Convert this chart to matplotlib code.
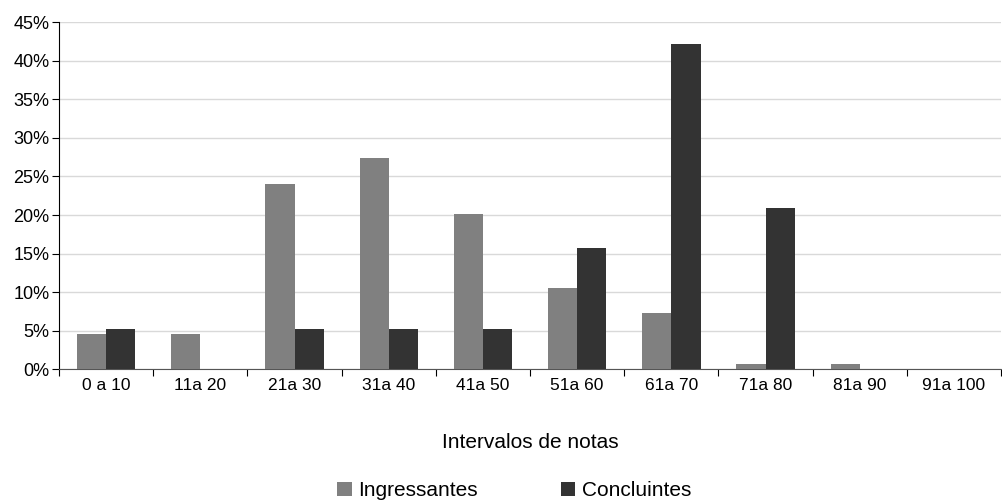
import matplotlib.pyplot as plt
import numpy as np
from matplotlib.ticker import FuncFormatter, FixedLocator

plt.rcParams['font.family'] = ['Liberation Sans', 'DejaVu Sans']

categorias = ["0 a 10", "11a 20", "21a 30", "31a 40", "41a 50",
              "51a 60", "61a 70", "71a 80", "81a 90", "91a 100"]
ingressantes = [4.6, 4.6, 24.0, 27.4, 20.1, 10.6, 7.3, 0.7, 0.7, 0.0]
concluintes = [5.3, 0.0, 5.3, 5.3, 5.3, 15.7, 42.2, 20.9, 0.0, 0.0]

fig = plt.figure(figsize=(10.02, 5.01), dpi=100)
ax = fig.add_axes([0.059, 0.2625, 0.94, 0.6935])

x = np.arange(len(categorias))
w = 0.31
ax.bar(x - w / 2, ingressantes, w, color="#808080", label="Ingressantes", zorder=3)
ax.bar(x + w / 2, concluintes, w, color="#333333", label="Concluintes", zorder=3)

ax.set_xlim(-0.5, len(categorias) - 0.5)
ax.set_ylim(0, 45)
ax.set_yticks(np.arange(0, 46, 5))
ax.yaxis.set_major_formatter(FuncFormatter(lambda v, p: f"{v:.0f}%"))
ax.grid(axis="y", color="#d9d9d9", linewidth=1, zorder=0)

# ticks entre as categorias, rótulos no centro
ax.xaxis.set_major_locator(FixedLocator(np.arange(-0.5, len(categorias), 1)))
ax.set_xticklabels([])
ax.xaxis.set_minor_locator(FixedLocator(x))
ax.set_xticklabels(categorias, minor=True)
ax.tick_params(axis="x", which="minor", length=0, pad=6, labelsize=12.5)
ax.tick_params(axis="x", which="major", length=5, color="#000000")
ax.tick_params(axis="y", length=5, labelsize=13, pad=2)

for s in ["top", "right"]:
    ax.spines[s].set_visible(False)
ax.spines["left"].set_color("#000000")
ax.spines["bottom"].set_color("#555555")

ax.set_xlabel("Intervalos de notas", fontsize=15, labelpad=29)

fig.legend(loc="center", bbox_to_anchor=(0.513, 0.02), ncol=2,
           frameon=False, fontsize=15, handlelength=0.7, handleheight=0.7,
           handletextpad=0.3, columnspacing=4.0, borderpad=0.1)

plt.savefig("out.png", dpi=100)
